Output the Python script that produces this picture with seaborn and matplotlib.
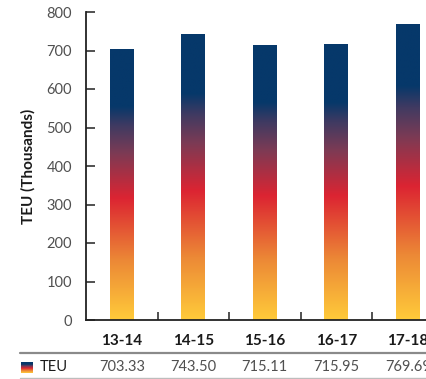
import numpy as np
import pandas as pd
import matplotlib
matplotlib.use("Agg")
import matplotlib.pyplot as plt
import seaborn as sns
from matplotlib.colors import LinearSegmentedColormap
from matplotlib.lines import Line2D
import matplotlib.transforms as mtransforms

# Container throughput by financial year (thousand TEU)
years = ["13-14", "14-15", "15-16", "16-17", "17-18"]
teu = [703.33, 743.50, 715.11, 715.95, 769.69]
series_name = "TEU"
y_ticks = [0, 100, 200, 300, 400, 500, 600, 700, 800]

sns.set_theme(style="white")
plt.rcParams["font.family"] = ["Lato", "DejaVu Sans"]

# Vertical fill: yellow at the base, through orange and red, into navy at the top
grad = LinearSegmentedColormap.from_list(
    "teu_grad",
    [(0.00, "#FFCB3A"),
     (0.22, "#EC8836"),
     (0.45, "#DC2432"),
     (0.62, "#7A3B55"),
     (0.72, "#3E3A62"),
     (0.79, "#06386A"),
     (1.00, "#06386A")],
)

fig = plt.figure(figsize=(4.26, 3.79), dpi=100)
ax = fig.add_axes([86 / 426, 59 / 379, 357.5 / 426, 308 / 379])

df = pd.DataFrame({"year": years, "teu": teu})
sns.barplot(data=df, x="year", y="teu", ax=ax, width=24 / 71.5,
            color="white", edgecolor="none", linewidth=0)

ramp = np.linspace(0, 1, 256).reshape(-1, 1)
for bar in ax.patches:
    x0, y0 = bar.get_x(), bar.get_y()
    w, h = bar.get_width(), bar.get_height()
    bar.set_facecolor("none")
    img = ax.imshow(ramp, cmap=grad, origin="lower", aspect="auto",
                    extent=(x0, x0 + w, y0, y0 + h), interpolation="bilinear",
                    zorder=2)
    img.set_clip_path(bar)

ax.set_xlim(-0.5, len(years) - 0.5)
ax.set_ylim(0, 800)
ax.set_yticks(y_ticks)
ax.set_yticklabels([str(v) for v in y_ticks], fontsize=10.5,
                   color="#505050", fontweight="normal")

# Category labels at bar centres, tick marks between categories
ax.set_xticks(range(len(years)))
ax.set_xticklabels(years, fontsize=11, fontweight="bold", color="#1a1a1a")
ax.set_xticks([i + 0.5 for i in range(len(years) - 1)], minor=True)
ax.tick_params(axis="x", which="major", length=0, pad=10)
ax.tick_params(axis="x", which="minor", direction="in", length=6,
               width=1.2, color="#333333", bottom=True)
ax.tick_params(axis="y", direction="in", length=6.5, width=1.2,
               color="#333333", pad=10, left=True)

ax.set_xlabel("")
ax.set_ylabel("TEU (Thousands)", fontsize=11, fontweight="bold",
              color="#1a1a1a", labelpad=8)

for side in ("top", "right"):
    ax.spines[side].set_visible(False)
for side in ("left", "bottom"):
    ax.spines[side].set_color("#222222")
    ax.spines[side].set_linewidth(1.3)

# Data table beneath the chart
fig.add_artist(Line2D([20 / 426, 1.0], [1 - 353 / 379] * 2,
                      transform=fig.transFigure, color="#8a8a8a", lw=1.6))
fig.add_artist(Line2D([20 / 426, 1.0], [1 - 378 / 379] * 2,
                      transform=fig.transFigure, color="#bdbdbd", lw=1.0))

row_y = 1 - 367 / 379
blend = mtransforms.blended_transform_factory(ax.transData, fig.transFigure)
for i, v in enumerate(teu):
    fig.text(i, row_y, f"{v:.2f}", transform=blend, ha="center", va="center",
             fontsize=10.5, fontweight="normal", color="#505050")

fig.text(40 / 426, row_y, series_name, ha="left", va="center",
         fontsize=10.5, color="#1a1a1a")

# Legend swatch with the same fill
sw = fig.add_axes([21 / 426, 1 - 373 / 379, 12 / 426, 11 / 379])
sw.imshow(ramp, cmap=grad, origin="lower", aspect="auto",
          interpolation="bilinear")
sw.axis("off")

fig.savefig("out.png", dpi=100)
